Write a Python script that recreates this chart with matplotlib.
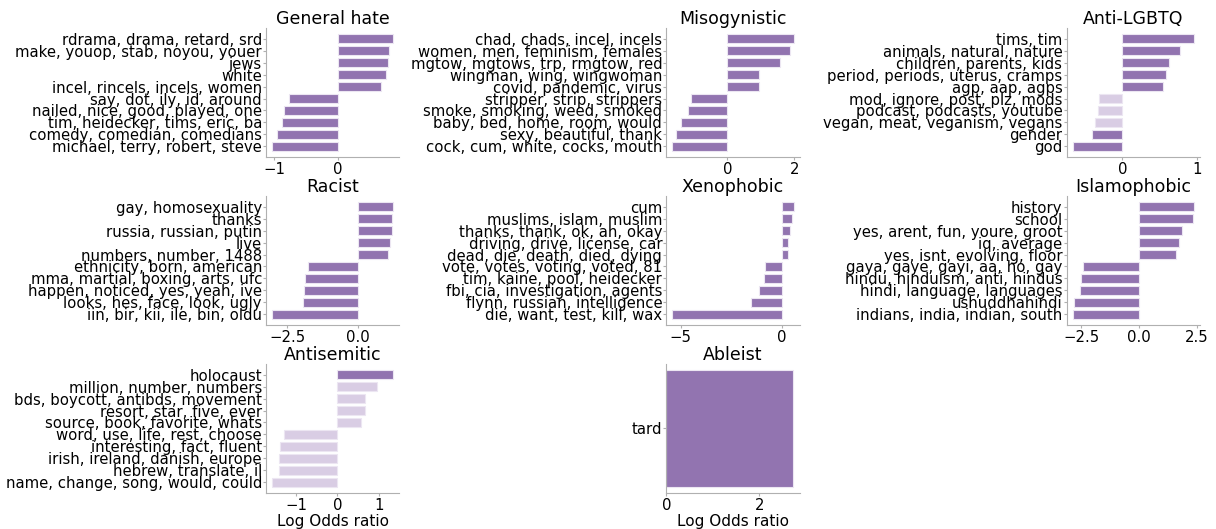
import numpy as np
import matplotlib
matplotlib.use("Agg")
import matplotlib.pyplot as plt

# panel titles, in grid order
titles = ["General hate", "Misogynistic", "Anti-LGBTQ",
          "Racist", "Xenophobic", "Islamophobic",
          "Antisemitic", "Ableist"]

# topic labels (top to bottom) and log odds ratios
general_labels = ["rdrama, drama, retard, srd", "make, youop, stab, noyou, youer",
                  "jews", "white", "incel, rincels, incels, women",
                  "say, dot, ily, id, around", "nailed, nice, good, played, one",
                  "tim, heidecker, tims, eric, ba", "comedy, comedian, comedians",
                  "michael, terry, robert, steve"]
general_vals = [0.87, 0.80, 0.78, 0.76, 0.68, -0.77, -0.84, -0.87, -0.96, -1.03]
general_sig = [1, 1, 1, 1, 1, 1, 1, 1, 1, 1]

miso_labels = ["chad, chads, incel, incels", "women, men, feminism, females",
               "mgtow, mgtows, trp, rmgtow, red", "wingman, wing, wingwoman",
               "covid, pandemic, virus", "stripper, strip, strippers",
               "smoke, smoking, weed, smoked", "baby, bed, home, room, would",
               "sexy, beautiful, thank", "cock, cum, white, cocks, mouth"]
miso_vals = [1.98, 1.87, 1.57, 0.93, 0.93, -1.10, -1.18, -1.39, -1.55, -1.65]
miso_sig = [1, 1, 1, 1, 1, 1, 1, 1, 1, 1]

lgbtq_labels = ["tims, tim", "animals, natural, nature", "children, parents, kids",
                "period, periods, uterus, cramps", "agp, aap, agps",
                "mod, ignore, post, plz, mods", "podcast, podcasts, youtube",
                "vegan, meat, veganism, vegans", "gender", "god"]
lgbtq_vals = [0.96, 0.77, 0.63, 0.59, 0.54, -0.31, -0.33, -0.37, -0.41, -0.67]
lgbtq_sig = [1, 1, 1, 1, 1, 0, 0, 0, 1, 1]

racist_labels = ["gay, homosexuality", "thanks", "russia, russian, putin", "live",
                 "numbers, number, 1488", "ethnicity, born, american",
                 "mma, martial, boxing, arts, ufc", "happen, noticed, yes, yeah, ive",
                 "looks, hes, face, look, ugly", "iin, bir, kii, ile, bin, oldu"]
racist_vals = [1.27, 1.22, 1.21, 1.14, 1.08, -1.75, -1.87, -1.90, -1.93, -3.03]
racist_sig = [1, 1, 1, 1, 1, 1, 1, 1, 1, 1]

xeno_labels = ["cum", "muslims, islam, muslim", "thanks, thank, ok, ah, okay",
               "driving, drive, license, car", "dead, die, death, died, dying",
               "vote, votes, voting, voted, 81", "tim, kaine, pool, heidecker",
               "fbi, cia, investigation, agents", "flynn, russian, intelligence",
               "die, want, test, kill, wax"]
xeno_vals = [0.60, 0.51, 0.40, 0.33, 0.32, -0.81, -0.89, -1.13, -1.49, -5.41]
xeno_sig = [1, 1, 1, 1, 1, 1, 1, 1, 1, 1]

islam_labels = ["history", "school", "yes, arent, fun, youre, groot", "iq, average",
                "yes, isnt, evolving, floor", "gaya, gaye, gayi, aa, ho, gay",
                "hindu, hinduism, anti, hindus", "hindi, language, languages",
                "ushuddhahindi", "indians, india, indian, south"]
islam_vals = [2.36, 2.31, 1.85, 1.71, 1.57, -2.41, -2.49, -2.53, -2.83, -2.87]
islam_sig = [1, 1, 1, 1, 1, 1, 1, 1, 1, 1]

semit_labels = ["holocaust", "million, number, numbers",
                "bds, boycott, antibds, movement", "resort, star, five, ever",
                "source, book, favorite, whats", "word, use, life, rest, choose",
                "interesting, fact, fluent", "irish, ireland, danish, europe",
                "hebrew, translate, il", "name, change, song, would, could"]
semit_vals = [1.36, 0.96, 0.67, 0.66, 0.58, -1.30, -1.39, -1.43, -1.43, -1.59]
semit_sig = [1, 0, 0, 0, 0, 0, 0, 0, 0, 0]

ableist_labels = ["tard"]
ableist_vals = [2.73]
ableist_sig = [1]

panels = [
    (general_labels, general_vals, general_sig),
    (miso_labels, miso_vals, miso_sig),
    (lgbtq_labels, lgbtq_vals, lgbtq_sig),
    (racist_labels, racist_vals, racist_sig),
    (xeno_labels, xeno_vals, xeno_sig),
    (islam_labels, islam_vals, islam_sig),
    (semit_labels, semit_vals, semit_sig),
    (ableist_labels, ableist_vals, ableist_sig),
]

dark = "#9274b0"
light = "#d9cde4"

fig, axes = plt.subplots(3, 3, figsize=(12.16, 5.29), dpi=100)
plt.subplots_adjust(left=0.2188, right=0.9868, bottom=0.0681, top=0.947,
                    wspace=2.0, hspace=0.302)
axes = axes.ravel()

for i, (labels, vals, sig) in enumerate(panels):
    ax = axes[i]
    y = np.arange(len(labels))
    colors = [dark if s else light for s in sig]
    ax.barh(y, vals, height=0.8, color=colors, edgecolor="#ece6f2", linewidth=0.8)
    ax.set_yticks(y)
    ax.set_yticklabels(labels)
    ax.invert_yaxis()
    ax.set_title(titles[i], fontsize=12.5, pad=2)
    ax.tick_params(axis="y", labelsize=10.7, length=2, pad=1, color="#b0b0b0")
    ax.tick_params(axis="x", labelsize=10.7, length=2, pad=1.5, color="#b0b0b0")
    for side in ["top", "right"]:
        ax.spines[side].set_visible(False)
    for side in ["left", "bottom"]:
        ax.spines[side].set_color("#b0b0b0")
    if i >= 6:
        ax.set_xlabel("Log Odds ratio", fontsize=11, labelpad=1)

axes[8].axis("off")

plt.savefig("out.png", dpi=100)
